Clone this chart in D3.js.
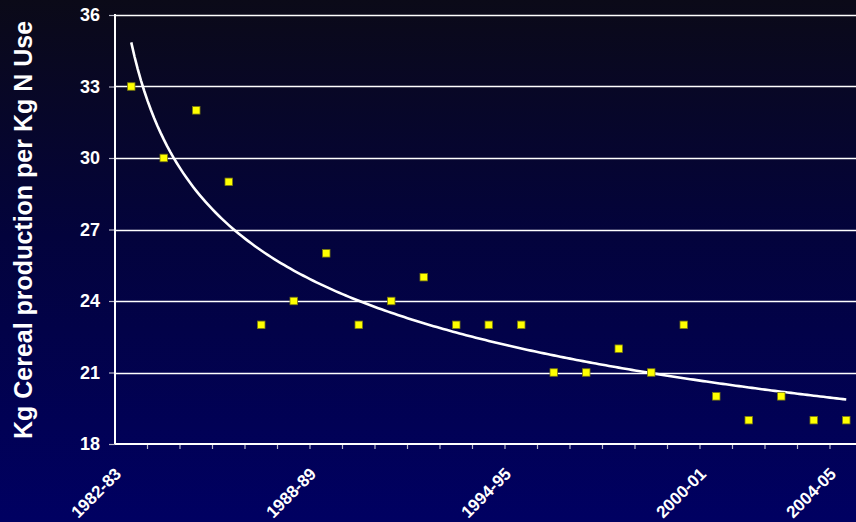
<!DOCTYPE html>
<html>
<head>
<meta charset="utf-8">
<script src="https://cdn.jsdelivr.net/npm/d3@7"></script>
<style>
  html, body { margin: 0; padding: 0; background: #000040; }
  svg { display: block; }
</style>
</head>
<body>
<svg id="chart" width="856" height="522"></svg>
<script>
// Crop years (one per point)
const years = [
  "1982-83","1983-84","1984-85","1985-86","1986-87","1987-88","1988-89",
  "1989-90","1990-91","1991-92","1992-93","1993-94","1994-95","1995-96",
  "1996-97","1997-98","1998-99","1999-00","2000-01","2001-02","2002-03",
  "2003-04","2004-05"
];
// Kg cereal produced per kg of nitrogen applied
const cerealPerN = [33,30,32,29,23,24,26,23,24,25,23,23,23,21,21,22,21,23,20,19,20,19,19];
// Years that carry a printed label on the category axis
const labelledYears = ["1982-83","1988-89","1994-95","2000-01","2004-05"];
// Value axis ticks
const yTicks = [18,21,24,27,30,33,36];
const yTitle = "Kg Cereal production per Kg N Use";

(function () {
  const W = 856, H = 522;
  const plotLeft = 115, plotTop = 15, plotBottom = 444;
  const band = 32.5;

  const svg = d3.select("#chart");

  // Background: near-black at the top fading to navy
  const defs = svg.append("defs");
  const grad = defs.append("linearGradient")
    .attr("id", "bg").attr("x1", 0).attr("y1", 0).attr("x2", 0).attr("y2", 1);
  grad.append("stop").attr("offset", "0%").attr("stop-color", "#0b0a18");
  grad.append("stop").attr("offset", "45%").attr("stop-color", "#03033c");
  grad.append("stop").attr("offset", "100%").attr("stop-color", "#000062");
  svg.append("rect").attr("width", W).attr("height", H).attr("fill", "url(#bg)");

  const x = d3.scaleBand().domain(years).range([plotLeft, plotLeft + band * years.length]).padding(0);
  const y = d3.scaleLinear().domain([18, 36]).range([plotBottom, plotTop]);
  const cx = d => x(d) + x.bandwidth() / 2;
  const font = "'Liberation Sans', Arial, sans-serif";

  // Horizontal gridlines
  svg.append("g").selectAll("line")
    .data(yTicks.filter(t => t !== 18))
    .join("line")
    .attr("x1", plotLeft).attr("x2", W)
    .attr("y1", d => Math.round(y(d)) + 0.5).attr("y2", d => Math.round(y(d)) + 0.5)
    .attr("stroke", "#ffffff").attr("stroke-width", 1.4);

  // Value axis
  const yAxis = svg.append("g").attr("transform", `translate(${plotLeft},0)`)
    .call(d3.axisLeft(y).tickValues(yTicks).tickSize(6).tickPadding(9));
  yAxis.select(".domain").remove();
  yAxis.selectAll(".tick line").attr("stroke", "#b8b8c8").attr("stroke-width", 1.2);
  yAxis.selectAll(".tick text")
    .attr("fill", "#ffffff")
    .style("font-family", font)
    .style("font-weight", "bold").style("font-size", "18px");

  // Category axis ticks at band boundaries
  const xAxis = svg.append("g").attr("transform", `translate(0,${plotBottom})`);
  xAxis.selectAll("line.tk")
    .data(years)
    .join("line").attr("class", "tk")
    .attr("x1", d => x(d) + band).attr("x2", d => x(d) + band)
    .attr("y1", 0).attr("y2", 5)
    .attr("stroke", "#b8b8c8").attr("stroke-width", 1.2);

  xAxis.selectAll("text")
    .data(labelledYears)
    .join("text")
    .attr("transform", d => `translate(${cx(d) - 9},${31}) rotate(-45)`)
    .attr("text-anchor", "end")
    .attr("fill", "#ffffff")
    .style("font-family", font)
    .style("font-weight", "bold").style("font-size", "17px")
    .text(d => d);

  // Axis lines
  svg.append("line").attr("x1", plotLeft).attr("x2", W).attr("y1", plotBottom).attr("y2", plotBottom)
    .attr("stroke", "#ffffff").attr("stroke-width", 2);
  svg.append("line").attr("x1", plotLeft).attr("x2", plotLeft).attr("y1", plotTop - 1).attr("y2", plotBottom)
    .attr("stroke", "#ffffff").attr("stroke-width", 2);

  // Power trendline fitted by least squares on ln(x), ln(y)
  const n = cerealPerN.length;
  const lx = d3.range(1, n + 1).map(Math.log);
  const ly = cerealPerN.map(Math.log);
  const mx = d3.mean(lx), my = d3.mean(ly);
  const k = d3.sum(lx, (v, i) => (v - mx) * (ly[i] - my)) / d3.sum(lx, v => (v - mx) * (v - mx));
  const c = Math.exp(my - k * mx);
  const xi = d3.scaleLinear().domain([1, n]).range([cx(years[0]), cx(years[n - 1])]);
  const trend = d3.range(1, n + 0.001, 0.1).map(t => [xi(t), y(c * Math.pow(t, k))]);
  svg.append("path")
    .attr("d", d3.line()(trend))
    .attr("fill", "none").attr("stroke", "#ffffff").attr("stroke-width", 2.6)
    .attr("stroke-linejoin", "round");

  // Data markers
  const m = 7.5;
  svg.append("g").selectAll("rect")
    .data(cerealPerN)
    .join("rect")
    .attr("x", (d, i) => cx(years[i]) - m / 2)
    .attr("y", d => y(d) - m / 2)
    .attr("width", m).attr("height", m)
    .attr("fill", "#ffff00").attr("stroke", "#7a7a10").attr("stroke-width", 0.8);

  // Value axis title
  svg.append("text")
    .attr("transform", `translate(32,230) rotate(-90)`)
    .attr("text-anchor", "middle")
    .attr("fill", "#ffffff")
    .style("font-family", font)
    .style("font-weight", "bold").style("font-size", "25px")
    .text(yTitle);
})();
</script>
</body>
</html>
